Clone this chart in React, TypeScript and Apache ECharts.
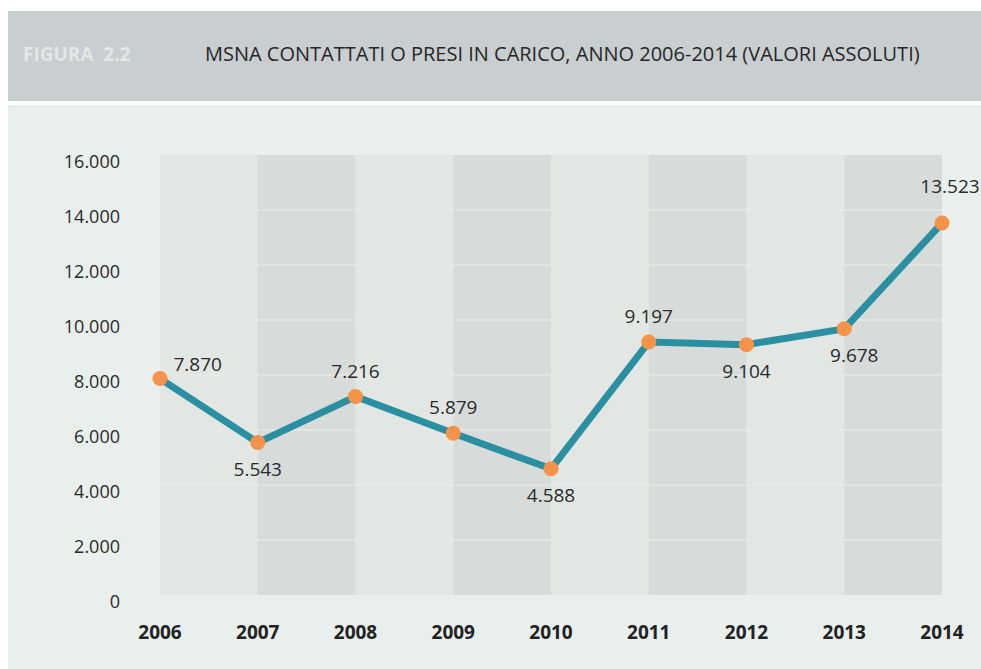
import React, { useEffect, useRef } from "react";
import * as echarts from "echarts";

const years = ["2006", "2007", "2008", "2009", "2010", "2011", "2012", "2013", "2014"];
const values = [7870, 5543, 7216, 5879, 4588, 9197, 9104, 9678, 13523];
const labelPlacement = ["right", "bottom", "top", "top", "bottom", "top", "bottom", "bottom", "top"];
const yTicks = [0, 2000, 4000, 6000, 8000, 10000, 12000, 14000, 16000];
const figureLabel = "FIGURA  2.2";
const titleText = "MSNA CONTATTATI O PRESI IN CARICO, ANNO 2006-2014 (VALORI ASSOLUTI)";

const fmt = (v: number) => String(v).replace(/\B(?=(\d{3})+(?!\d))/g, ".");
const FONT = "'Open Sans', 'Noto Sans', sans-serif";

export default function App() {
  const ref = useRef<HTMLDivElement>(null);
  useEffect(() => {
    if (!ref.current) return;
    const chart = echarts.init(ref.current, undefined, { renderer: "svg" });
    const data = values.map((v, i) => {
      const pos = labelPlacement[i];
      const label: any = { position: pos, distance: 9 };
      if (i === 0) { label.offset = [0, -15]; label.distance = 6; }
      if (i === 7) label.offset = [10, 0];
      if (i === 8) { label.offset = [8, 0]; label.distance = 20; }
      return { value: v, label };
    });
    chart.setOption({
      animation: false,
      backgroundColor: "#ffffff",
      graphic: [
        { type: "rect", left: 8, top: 11, shape: { width: 973, height: 90 }, style: { fill: "#c9cfd0" }, z: -10 },
        { type: "rect", left: 8, top: 105, shape: { width: 973, height: 564 }, style: { fill: "#e9efec" }, z: -10 },
        {
          type: "text", left: 23, top: 44, z: 10,
          style: { text: figureLabel, fill: "#e3e7e6", font: `bold 19px ${FONT}` },
        },
        {
          type: "text", left: 205, top: 43, z: 10,
          style: { text: titleText, fill: "#262626", font: `20px ${FONT}` },
        },
      ],
      grid: { left: 160, right: 39, top: 155, bottom: 74, containLabel: false },
      xAxis: {
        type: "category",
        data: years,
        boundaryGap: false,
        axisLine: { show: false },
        axisTick: { show: false },
        axisLabel: { margin: 27, color: "#222", fontFamily: FONT, fontSize: 19, fontWeight: "bold" },
        splitLine: { show: false },
        splitArea: { show: true, areaStyle: { color: ["#e2e7e4", "#d7dcdb"] } },
      },
      yAxis: {
        type: "value",
        min: yTicks[0],
        max: yTicks[yTicks.length - 1],
        interval: yTicks[1] - yTicks[0],
        axisLine: { show: false },
        axisTick: { show: false },
        axisLabel: {
          margin: 40, color: "#2a2a2a", fontFamily: FONT, fontSize: 18,
          verticalAlign: "top", lineHeight: 12,
          formatter: (v: number) => fmt(v),
        },
        splitLine: { show: true, showMinLine: false, showMaxLine: false, lineStyle: { color: "#e5eae7", width: 1.6 } },
        z: 2,
      },
      series: [
        {
          type: "line",
          data,
          z: 5,
          lineStyle: { color: "#2a8fa1", width: 7 },
          symbol: "circle",
          symbolSize: 15,
          itemStyle: { color: "#f6934a", borderWidth: 0 },
          label: {
            show: true,
            color: "#2a2a2a",
            fontFamily: FONT,
            fontSize: 19,
            formatter: (p: any) => fmt(p.value),
          },
        },
      ],
    });
    return () => chart.dispose();
  }, []);
  return <div ref={ref} style={{ position: "absolute", left: 0, top: 0, width: 981, height: 669 }} />;
}
